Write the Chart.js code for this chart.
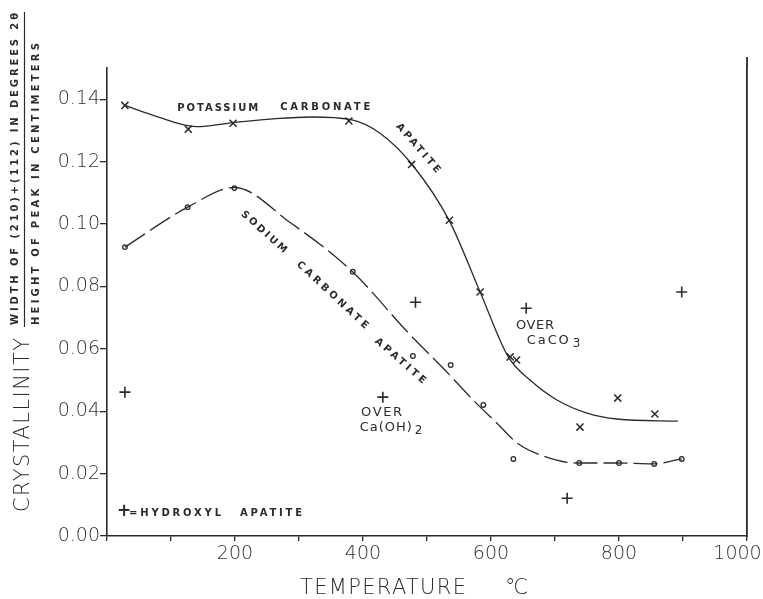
<!DOCTYPE html>
<html>
<head>
<meta charset="utf-8">
<script src="https://cdn.jsdelivr.net/npm/chart.js@4"></script>
<style>
  html, body { margin: 0; padding: 0; background: #fff; }
</style>
</head>
<body>
<canvas id="grafico" width="763" height="599"></canvas>
<script>
// DATA
const potassiumTemp = [28, 127, 197, 378, 476, 535, 583, 630, 640, 739, 798, 856]
const potassiumWidth = [0.138, 0.1304, 0.1323, 0.133, 0.1191, 0.1012, 0.0782, 0.0574, 0.0564, 0.0349, 0.0442, 0.0391]

const potassiumCurveTemp = [28, 70, 140, 197, 260, 320, 380, 427, 477, 535, 583, 627, 661, 703, 750, 797, 892]
const potassiumCurveWidth = [0.138, 0.135, 0.1312, 0.1325, 0.1337, 0.1343, 0.1335, 0.129, 0.119, 0.101, 0.0782, 0.0574, 0.050, 0.0436, 0.0394, 0.0375, 0.0368]

const sodiumTemp = [28, 126, 199, 384, 478, 537, 588, 635, 738, 800, 855, 898]
const sodiumWidth = [0.0926, 0.1054, 0.1115, 0.0847, 0.0577, 0.0548, 0.042, 0.0247, 0.0234, 0.0234, 0.0231, 0.0247]

const sodiumCurveTemp = [28, 126, 199, 286, 384, 469, 528, 572, 609, 641, 677, 734, 797, 853, 898]
const sodiumCurveWidth = [0.0926, 0.1054, 0.1117, 0.1005, 0.0846, 0.0655, 0.0532, 0.0436, 0.0362, 0.0298, 0.026, 0.0234, 0.0234, 0.0231, 0.0247]

const hydroxylTemp = [28, 431, 482, 655, 719, 898]
const hydroxylWidth = [0.0461, 0.0445, 0.0749, 0.073, 0.0121, 0.0782]

const xTickLabels = ['200', '400', '600', '800', '1000']

const ink = '#2b2b2b'
const pts = (xs, ys) => xs.map((v, i) => ({x: v, y: ys[i]}))

// text stretched to a given length
function spaced(ctx, text, x, y, width) {
    ctx.letterSpacing = '0px'
    const w = ctx.measureText(text).width
    const ls = text.length > 1 ? (width - w) / (text.length - 1) : 0
    ctx.letterSpacing = ls + 'px'
    ctx.fillText(text, x, y)
    ctx.letterSpacing = '0px'
}

function along(ctx, text, cx, cy, angle, width) {
    ctx.save()
    ctx.translate(cx, cy)
    ctx.rotate(angle * Math.PI / 180)
    ctx.textAlign = 'left'
    ctx.textBaseline = 'middle'
    spaced(ctx, text, -width / 2, 0, width)
    ctx.restore()
}

const textos = {
    id: 'textos',
    afterDraw(chart) {
        const {ctx, chartArea, scales: {x, y}} = chart
        const px = v => x.getPixelForValue(v)
        const py = v => y.getPixelForValue(v)
        ctx.save()
        ctx.fillStyle = ink
        ctx.strokeStyle = ink

        // right frame line runs a little higher than the left axis
        ctx.lineWidth = 1.8
        ctx.beginPath()
        ctx.moveTo(chartArea.right, chartArea.top)
        ctx.lineTo(chartArea.right, chartArea.top - 11)
        ctx.stroke()

        // curve names
        ctx.font = 'bold 10px "DejaVu Sans"'
        along(ctx, 'POTASSIUM', px(173), py(0.1371), 0, 81)
        along(ctx, 'CARBONATE', px(341), py(0.1375), 0, 90)
        along(ctx, 'APATITE', px(486), py(0.1243), 49, 62)
        along(ctx, 'SODIUM', px(245), py(0.0974), 42, 58)
        along(ctx, 'CARBONATE', px(352), py(0.0772), 43, 94)
        along(ctx, 'APATITE', px(458), py(0.0561), 41, 64)

        // hydroxyl notes
        ctx.textAlign = 'left'
        ctx.textBaseline = 'middle'
        ctx.font = '13px "DejaVu Sans"'
        spaced(ctx, 'OVER', px(639), py(0.0673), 38)
        spaced(ctx, 'CaCO', px(656), py(0.0625), 42)
        spaced(ctx, 'OVER', px(397), py(0.0394), 41)
        spaced(ctx, 'Ca(OH)', px(395), py(0.0346), 52)
        ctx.font = '12px "DejaVu Sans"'
        ctx.fillText('3', px(656) + 46, py(0.0625) + 3)
        ctx.fillText('2', px(395) + 55, py(0.0346) + 3)

        // legend
        ctx.font = 'bold 17px "DejaVu Sans"'
        ctx.fillText('+', 117, 512)
        ctx.font = 'bold 10px "DejaVu Sans"'
        spaced(ctx, '=HYDROXYL', 129, 513, 92)
        spaced(ctx, 'APATITE', 240, 513, 62)

        // axis titles
        ctx.font = '200 21px "DejaVu Sans"'
        spaced(ctx, 'TEMPERATURE', 300, 589, 166)
        spaced(ctx, '°C', 505, 589, 23)

        ctx.save()
        ctx.translate(24, 512)
        ctx.rotate(-Math.PI / 2)
        spaced(ctx, 'CRYSTALLINITY', 0, 0, 174)
        ctx.restore()

        ctx.font = 'bold 10px "DejaVu Sans"'
        ctx.save()
        ctx.translate(15, 325)
        ctx.rotate(-Math.PI / 2)
        spaced(ctx, 'WIDTH OF (210)+(112) IN DEGREES 2θ', 0, 0, 312)
        ctx.restore()
        ctx.save()
        ctx.translate(36, 325)
        ctx.rotate(-Math.PI / 2)
        spaced(ctx, 'HEIGHT OF PEAK IN CENTIMETERS', 0, 0, 282)
        ctx.restore()

        ctx.lineWidth = 1.2
        ctx.beginPath()
        ctx.moveTo(24.5, 12)
        ctx.lineTo(24.5, 327)
        ctx.stroke()
        ctx.restore()
    }
}

const tickFont = {family: 'DejaVu Sans', size: 19, weight: 200}

const grafico = new Chart(document.getElementById('grafico'), {
    type: 'scatter',
    data: {
        datasets: [
            {
                data: pts(potassiumCurveTemp, potassiumCurveWidth),
                showLine: true, pointRadius: 0, borderColor: ink, borderWidth: 1.3,
                cubicInterpolationMode: 'monotone'
            },
            {
                data: pts(sodiumCurveTemp, sodiumCurveWidth),
                showLine: true, pointRadius: 0, borderColor: ink, borderWidth: 1.3,
                borderDash: [24, 6], cubicInterpolationMode: 'monotone'
            },
            {
                data: pts(potassiumTemp, potassiumWidth),
                pointStyle: 'crossRot', pointRadius: 5, borderColor: ink, borderWidth: 1.5
            },
            {
                data: pts(sodiumTemp, sodiumWidth),
                pointStyle: 'circle', pointRadius: 2.3, borderColor: ink,
                backgroundColor: '#fff', borderWidth: 1.3
            },
            {
                data: pts(hydroxylTemp, hydroxylWidth),
                pointStyle: 'cross', pointRadius: 5.5, borderColor: ink, borderWidth: 1.6
            }
        ]
    },
    options: {
        responsive: false,
        animation: false,
        layout: {padding: {top: 68, left: 0, right: 0, bottom: 0}},
        plugins: {legend: {display: false}, tooltip: {enabled: false}},
        scales: {
            x: {
                type: 'linear', min: 0, max: 1000,
                ticks: {
                    stepSize: 100, autoSkip: false, maxRotation: 0, padding: 2,
                    color: '#333', font: tickFont,
                    callback: v => xTickLabels.includes(String(v)) ? (v === 1000 ? '1000\u2002\u2002' : String(v)) : ''
                },
                grid: {drawOnChartArea: false, tickLength: 5, color: ink, lineWidth: 1.3},
                border: {color: ink, width: 1.6},
                afterFit: s => { s.height = 63; s.paddingLeft = 0; s.paddingRight = 0 }
            },
            y: {
                min: 0, max: 0.15,
                afterBuildTicks: s => { s.ticks = s.ticks.filter(t => t.value < 0.145) },
                ticks: {
                    stepSize: 0.02, padding: 0, color: '#333', font: tickFont,
                    callback: v => v.toFixed(2)
                },
                grid: {drawOnChartArea: false, tickLength: 7, color: ink, lineWidth: 1.3},
                border: {color: ink, width: 1.6},
                afterFit: s => { s.width = 107; s.paddingTop = 0; s.paddingBottom = 0 }
            },
            y2: {
                position: 'right', min: 0, max: 0.15,
                ticks: {display: false},
                grid: {display: false},
                border: {color: ink, width: 1.8},
                afterFit: s => { s.width = 16 }
            }
        }
    },
    plugins: [textos]
})
</script>
</body>
</html>
